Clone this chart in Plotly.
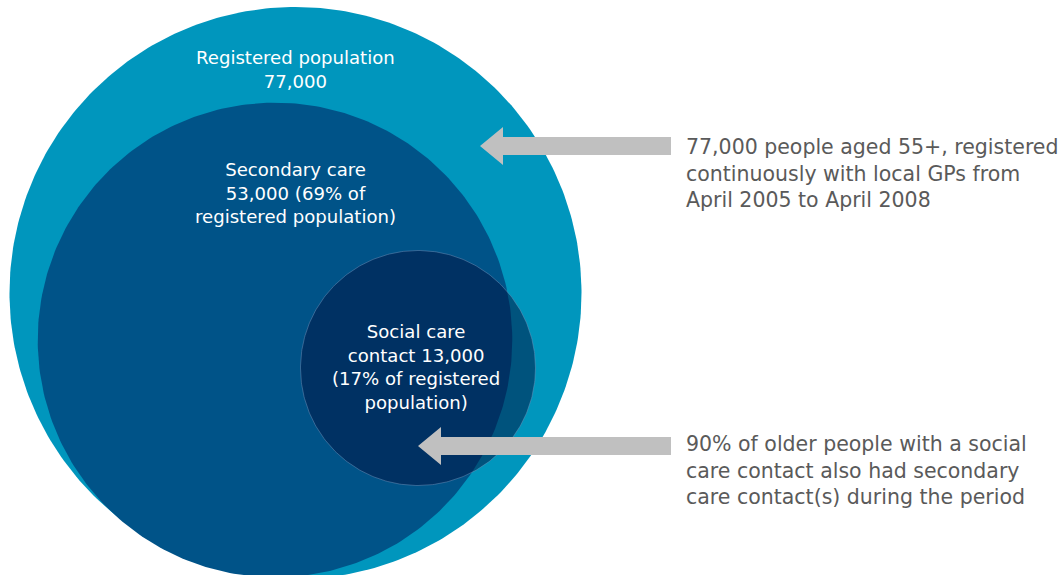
import math
import plotly.graph_objects as go

# ---- data ----
groups = ["Registered population", "Secondary care", "Social care contact"]
populations = [77000, 53000, 13000]
labels = [
    "Registered population<br>77,000",
    "Secondary care<br>53,000 (69% of<br>registered population)",
    "Social care<br>contact 13,000<br>(17% of registered<br>population)",
]
notes = [
    "77,000 people aged 55+, registered<br>continuously with local GPs from<br>April 2005 to April 2008",
    "90% of older people with a social<br>care contact also had secondary<br>care contact(s) during the period",
]

# ---- layout (pixel-like coordinates) ----
W, H = 1064, 575
centers = [(295.5, 293), (275, 340), (418, 368)]
R_MAX = 286
fills = ["#0096bd", "#005388", "rgba(0,16,62,0.5)"]
lines = [None, None, "rgba(120,150,190,0.45)"]
label_pos = [(295, 69), (295, 193), (416, 367)]

fig = go.Figure()

for i, (name, pop) in enumerate(zip(groups, populations)):
    r = R_MAX * math.sqrt(pop / populations[0])
    cx, cy = centers[i]
    t = [k * 2 * math.pi / 360 for k in range(361)]
    fig.add_trace(go.Scatter(
        x=[cx + r * math.cos(a) for a in t],
        y=[cy + r * math.sin(a) for a in t],
        mode="lines", fill="toself", fillcolor=fills[i],
        line=dict(color=lines[i] or "rgba(0,0,0,0)", width=1 if lines[i] else 0),
        hoverinfo="skip", showlegend=False, name=name,
    ))

for (x, y), txt in zip(label_pos, labels):
    fig.add_annotation(x=x, y=y, text=txt, showarrow=False,
                       font=dict(family="DejaVu Sans", size=18.1, color="white"),
                       align="center", xanchor="center", yanchor="middle")

# arrows (grey, pointing left)
arrow_specs = [
    # tip_x, y, head_base_x, tail_x
    (480, 146, 503, 671),
    (418, 446, 441, 671),
]
for tip, y, base, tail in arrow_specs:
    sh, hh = 9, 19
    path = (f"M {tail},{y-sh} L {base},{y-sh} L {base},{y-hh} L {tip},{y} "
            f"L {base},{y+hh} L {base},{y+sh} L {tail},{y+sh} Z")
    fig.add_shape(type="path", path=path, xref="x", yref="y",
                  fillcolor="#c0c0c0", line=dict(width=0))

note_pos = [(684, 173.5), (684, 470.5)]
for (x, y), txt in zip(note_pos, notes):
    fig.add_annotation(x=x, y=y, text=txt, showarrow=False,
                       font=dict(family="DejaVu Sans", size=20.5, color="#5a5a5a"),
                       align="left", xanchor="left", yanchor="middle")

fig.update_layout(
    width=W, height=H,
    margin=dict(l=0, r=0, t=0, b=0),
    paper_bgcolor="white", plot_bgcolor="white",
    xaxis=dict(range=[0, W], visible=False, fixedrange=True),
    yaxis=dict(range=[H, 0], visible=False, fixedrange=True),
)

fig.write_html("out.html")
